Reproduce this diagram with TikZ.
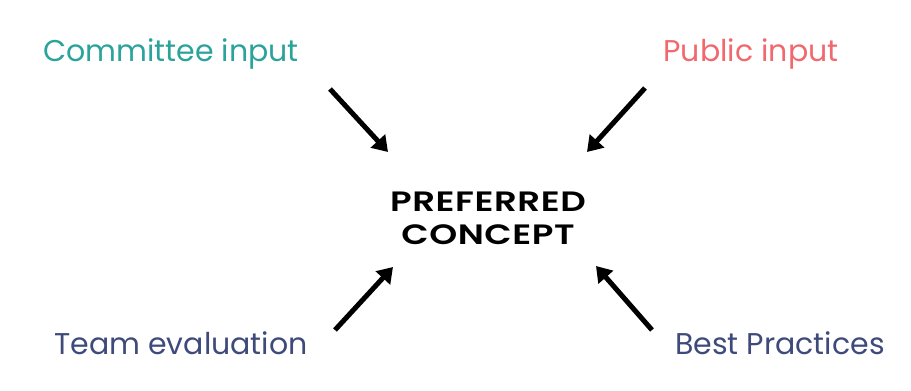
\documentclass[tikz,border=0pt]{standalone}
\usepackage{fontspec}
\setmainfont{Poppins}
\newfontfamily\conceptfont[FakeStretch=1.27, LetterSpace=2]{Poppins SemiBold}
\usepackage{xcolor}
\usetikzlibrary{arrows.meta}
\definecolor{committeecol}{HTML}{2BA39A}
\definecolor{publiccol}{HTML}{F0696E}
\definecolor{teamcol}{HTML}{3E4A7A}

\begin{document}
\begin{tikzpicture}[x=1pt,y=1pt,
    input/.style={anchor=base, inner sep=0pt, font=\fontsize{30}{36}\selectfont},
    arr/.style={-{Triangle[length=15pt,width=19pt]}, line width=5pt}]
    \useasboundingbox (0,0) rectangle (911,391);

    % Center
    \node[font=\conceptfont\fontsize{28}{33}\selectfont, align=center, inner sep=0pt] (concept) at (488,173) {PREFERRED\\CONCEPT};

    % Surrounding inputs
    \foreach \name/\pos/\col/\txt in {committee/{171,329}/committeecol/Committee input,
        public/{751,329}/publiccol/Public input,
        team/{181,36}/teamcol/Team evaluation,
        best/{780,36}/teamcol/Best Practices} {
        \node[input, text=\col] (\name) at (\pos) {\txt};
    }

    % Arrows
    \foreach \name/\from/\to in {committee/{330,302}/{388,239}, public/{645,303}/{587,239},
        team/{335,61}/{393,124}, best/{652,61}/{596,125}} {
        \coordinate (\name-tail) at (\from);
        \coordinate (\name-head) at (\to);
        \draw[arr] (\name-tail) -- (\name-head);
    }
\end{tikzpicture}
\end{document}
